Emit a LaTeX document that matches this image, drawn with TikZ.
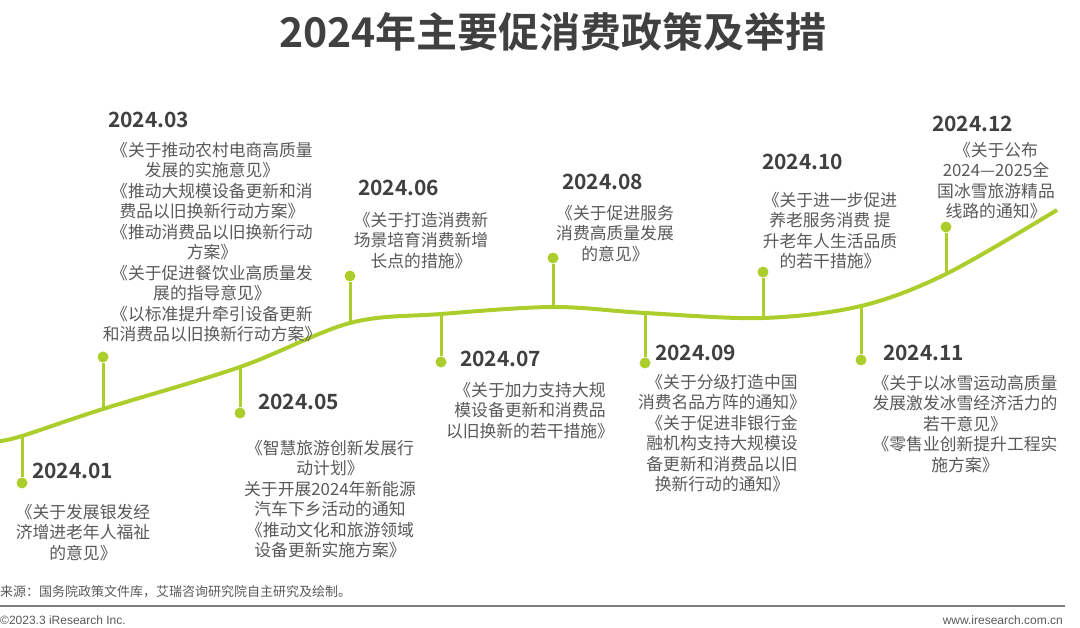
\documentclass[tikz,border=0pt]{standalone}
\usepackage{fontspec}
\setmainfont{Noto Sans CJK SC}[BoldFont={Noto Sans CJK SC Bold}]
\newfontfamily\latinfoot{Liberation Sans}
\usepackage{tikz}
\usetikzlibrary{positioning}
\definecolor{leaf}{RGB}{172, 206, 44}
\definecolor{ink}{RGB}{64, 64, 64}
\definecolor{mute}{RGB}{89, 89, 89}
\definecolor{rule}{RGB}{128, 128, 128}

\begin{document}
\begin{tikzpicture}[x=1pt, y=-1pt,
  datelbl/.style={anchor=west, inner sep=0, text=ink, font=\fontsize{21}{25}\selectfont\bfseries},
  itemtxt/.style={anchor=north, inner sep=0, align=center, text=mute, font=\fontsize{16.8}{20.5}\selectfont},
  pin/.style={circle, fill=leaf, inner sep=0, minimum size=11pt},
  stem/.style={leaf, line width=3pt},
  foot/.style={inner sep=0, text=mute}]

  \useasboundingbox (0, 0) rectangle (1080, 628);

  \node[text=ink, font=\fontsize{41}{48}\selectfont\bfseries] (title) at (553, 32) {2024年主要促消费政策及举措};

  % points on the time line
  \coordinate (s) at (0, 441);
  \coordinate (c01) at (22, 436);
  \coordinate (c03) at (103, 409);
  \coordinate (c05) at (240, 367);
  \coordinate (c06) at (350, 323);
  \coordinate (c07) at (441, 314);
  \coordinate (c08) at (553, 307);
  \coordinate (c09) at (645, 313);
  \coordinate (c10) at (763, 318);
  \coordinate (c11) at (861, 306);
  \coordinate (c12) at (946, 274);
  \coordinate (e) at (1057, 210);

  % pins
  \node[pin] (d01) at (22, 483) {};
  \node[pin] (d03) at (103, 357) {};
  \node[pin] (d05) at (240, 413) {};
  \node[pin] (d06) at (350, 276) {};
  \node[pin] (d07) at (441, 362) {};
  \node[pin] (d08) at (553, 258) {};
  \node[pin] (d09) at (645, 363) {};
  \node[pin] (d10) at (763, 272) {};
  \node[pin] (d11) at (861, 360) {};
  \node[pin] (d12) at (946, 227) {};

  \draw[stem] (c01) -- (d01);
  \draw[stem] (c03) -- (d03);
  \draw[stem] (c05) -- (d05);
  \draw[stem] (c06) -- (d06);
  \draw[stem] (c07) -- (d07);
  \draw[stem] (c08) -- (d08);
  \draw[stem] (c09) -- (d09);
  \draw[stem] (c10) -- (d10);
  \draw[stem] (c11) -- (d11);
  \draw[stem] (c12) -- (d12);

  \draw[leaf, line width=4pt] plot[smooth, tension=0.55] coordinates
    {(s) (c01) (c03) (c05) (c06) (c07) (c08) (c09) (c10) (c11) (c12) (e)};

  % dates and measures
  \node[datelbl] (m01) at (32, 471) {2024.01};
  \node[itemtxt] (t01) at (83, 504) {《关于发展银发经\\济增进老年人福祉\\的意见》};

  \node[datelbl] (m03) at (108, 120) {2024.03};
  \node[itemtxt] (t03) at (212, 142) {《关于推动农村电商高质量\\发展的实施意见》\\《推动大规模设备更新和消\\费品以旧换新行动方案》\\《推动消费品以旧换新行动\\方案》\\《关于促进餐饮业高质量发\\展的指导意见》\\《以标准提升牵引设备更新\\和消费品以旧换新行动方案》};

  \node[datelbl] (m05) at (258, 402) {2024.05};
  \node[itemtxt] (t05) at (330, 440) {《智慧旅游创新发展行\\动计划》\\关于开展2024年新能源\\汽车下乡活动的通知\\《推动文化和旅游领域\\设备更新实施方案》};

  \node[datelbl] (m06) at (358, 188) {2024.06};
  \node[itemtxt] (t06) at (421, 212) {《关于打造消费新\\场景培育消费新增\\长点的措施》};

  \node[datelbl] (m07) at (460, 359) {2024.07};
  \node[itemtxt] (t07) at (530, 382) {《关于加力支持大规\\模设备更新和消费品\\以旧换新的若干措施》};

  \node[datelbl] (m08) at (562, 182) {2024.08};
  \node[itemtxt] (t08) at (615, 205) {《关于促进服务\\消费高质量发展\\的意见》};

  \node[datelbl] (m09) at (655, 353) {2024.09};
  \node[itemtxt] (t09) at (722, 374) {《关于分级打造中国\\消费名品方阵的通知》\\《关于促进非银行金\\融机构支持大规模设\\备更新和消费品以旧\\换新行动的通知》};

  \node[datelbl] (m10) at (762, 162) {2024.10};
  \node[itemtxt] (t10) at (830, 192) {《关于进一步促进\\养老服务消费 提\\升老年人生活品质\\的若干措施》};

  \node[datelbl] (m11) at (883, 353) {2024.11};
  \node[itemtxt] (t11) at (965, 375) {《关于以冰雪运动高质量\\发展激发冰雪经济活力的\\若干意见》\\《零售业创新提升工程实\\施方案》};

  \node[datelbl] (m12) at (932, 124) {2024.12};
  \node[itemtxt] (t12) at (996, 142) {《关于公布\\2024—2025全\\国冰雪旅游精品\\线路的通知》};

  % footer
  \node[foot, anchor=west, font=\fontsize{13}{15}\selectfont] (src) at (0, 592) {来源：国务院政策文件库，艾瑞咨询研究院自主研究及绘制。};
  \coordinate (ra) at (0, 606);
  \coordinate (rb) at (1065, 606);
  \draw[rule, line width=2pt] (ra) -- (rb);
  \node[foot, anchor=west, font=\latinfoot\fontsize{12}{14}\selectfont] (copy) at (0, 620) {©2023.3 iResearch Inc.};
  \node[foot, anchor=east, font=\latinfoot\fontsize{12}{14}\selectfont] (web) at (1063, 620) {www.iresearch.com.cn};

\end{tikzpicture}
\end{document}
